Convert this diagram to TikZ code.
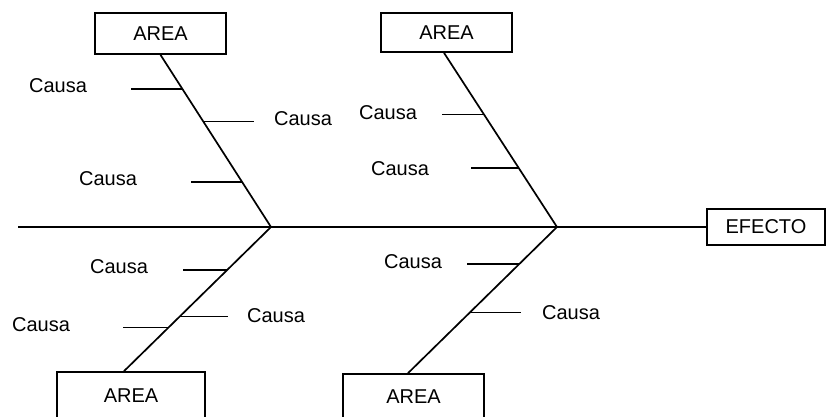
\documentclass[tikz,border=0pt]{standalone}
\usepackage{fontspec}
\setmainfont{Liberation Sans}
\usetikzlibrary{calc}
\begin{document}
\begin{tikzpicture}[x=1pt,y=-1pt,
  line width=1.7pt,
  box/.style={draw, line width=1.7pt, inner sep=0pt, font=\fontsize{20}{24}\selectfont},
  causa/.style={inner sep=0pt, font=\fontsize{20}{24}\selectfont},
  bone/.style={line width=1.7pt},
  tick/.style={line width=1.7pt}]
\clip (0,0) rectangle (827,417);

% category boxes and the effect box
\node[box, minimum width=131pt, minimum height=41pt] (tl) at (160.5,33.5) {AREA};
\node[box, minimum width=131pt, minimum height=39pt] (tr) at (446.5,32.5) {AREA};
\node[box, minimum width=148pt, minimum height=47pt] (bl) at (131,395.5) {AREA};
\node[box, minimum width=141pt, minimum height=45pt] (br) at (413.5,396.5) {AREA};
\node[box, minimum width=118pt, minimum height=36pt] (ef) at (766,227) {EFECTO};

% spine and junctions
\coordinate (s0) at (18,227);
\coordinate (j1) at (271,227);
\coordinate (j2) at (557,227);
\draw[bone] (s0) -- (ef.west);

% main bones with attachment points for the causes
\draw[bone] (tl.south) -- (j1)
  coordinate[pos=0.197] (tl1) coordinate[pos=0.387] (tl2) coordinate[pos=0.740] (tl3);
\draw[bone] ($(tr.south)+(-2.5,0)$) -- (j2)
  coordinate[pos=0.354] (tr1) coordinate[pos=0.663] (tr2);
\draw[bone] (j1) -- ($(bl.north)+(-7,0)$)
  coordinate[pos=0.297] (bl1) coordinate[pos=0.621] (bl2) coordinate[pos=0.697] (bl3);
\draw[bone] (j2) -- ($(br.north)+(-5.5,0)$)
  coordinate[pos=0.252] (br1) coordinate[pos=0.585] (br2);

% cause ticks
\draw[tick] (tl1) -- ++(-51,0) coordinate (tl1e);
\draw[tick] (tl2) -- ++(51,0) coordinate (tl2e);
\draw[tick] (tl3) -- ++(-51,0) coordinate (tl3e);
\draw[tick] (tr1) -- ++(-42,0) coordinate (tr1e);
\draw[tick] (tr2) -- ++(-48,0) coordinate (tr2e);
\draw[tick] (bl1) -- ++(-44,0) coordinate (bl1e);
\draw[tick] (bl2) -- ++(48,0) coordinate (bl2e);
\draw[tick] (bl3) -- ++(-46,0) coordinate (bl3e);
\draw[tick] (br1) -- ++(-52,0) coordinate (br1e);
\draw[tick] (br2) -- ++(51,0) coordinate (br2e);

% cause labels
\node[causa] (c1) at (58,86) {Causa};
\node[causa] (c2) at (303,119) {Causa};
\node[causa] (c3) at (108,179) {Causa};
\node[causa] (c4) at (388,113) {Causa};
\node[causa] (c5) at (400,169) {Causa};
\node[causa] (c6) at (119,267) {Causa};
\node[causa] (c7) at (276,316) {Causa};
\node[causa] (c8) at (41,325) {Causa};
\node[causa] (c9) at (413,262) {Causa};
\node[causa] (c10) at (571,313) {Causa};
\end{tikzpicture}
\end{document}
